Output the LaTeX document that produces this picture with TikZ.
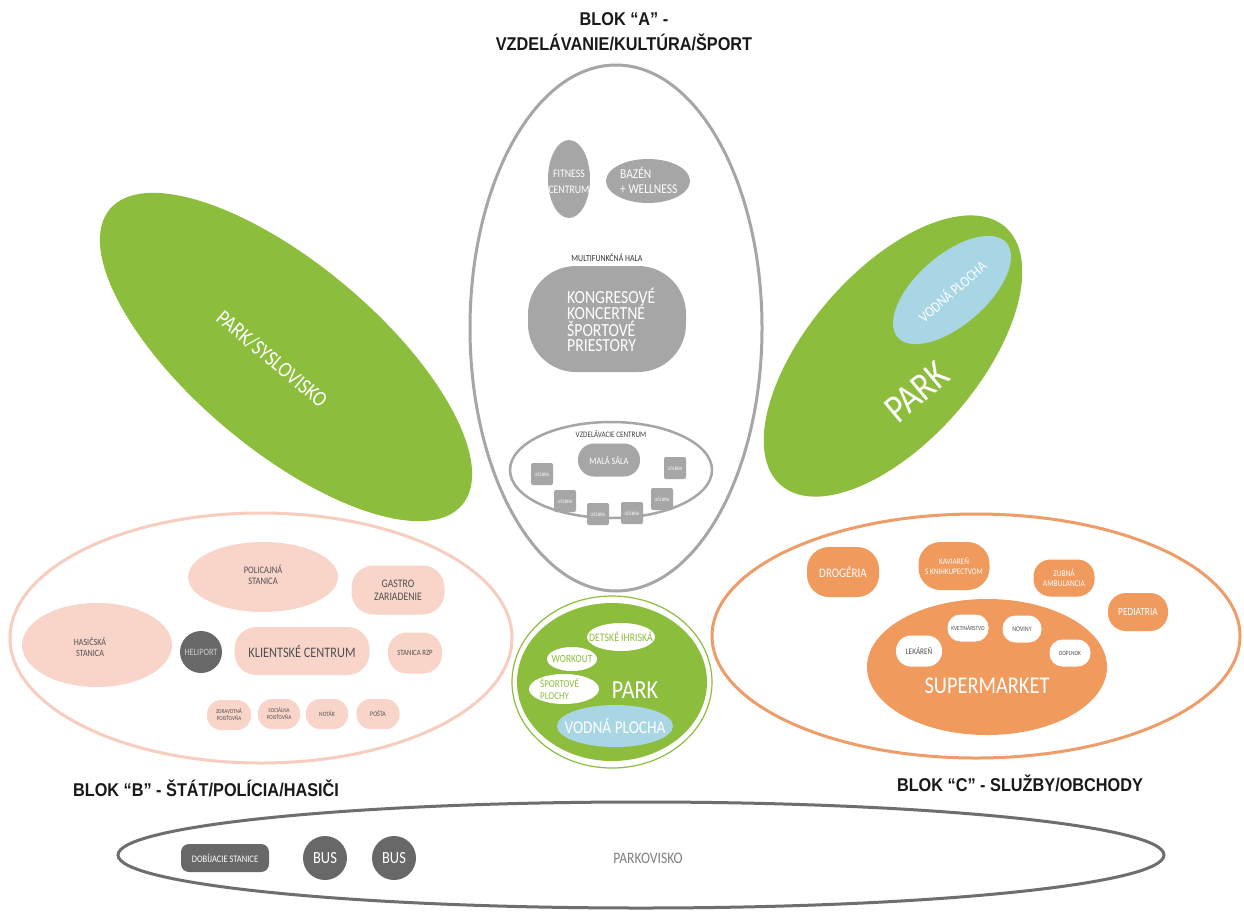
\documentclass[tikz,border=0pt]{standalone}
\usepackage{fontspec}
\setmainfont{Carlito}
\newfontfamily\lab[FakeStretch=0.85]{Carlito}
\newfontfamily\ttl[FakeStretch=0.88]{Liberation Sans}
\usetikzlibrary{shapes.geometric}
\definecolor{pgreen}{HTML}{8DBD3C}
\definecolor{wblue}{HTML}{A9D6E5}
\definecolor{agray}{HTML}{A6A6A6}
\definecolor{dgray}{HTML}{686868}
\definecolor{pgray}{HTML}{6E6E6E}
\definecolor{orng}{HTML}{F09A5E}
\definecolor{orngl}{HTML}{EE9D68}
\definecolor{pinkf}{HTML}{F9D5C9}
\definecolor{pinkl}{HTML}{F7CDBF}
\definecolor{ptext}{HTML}{505050}
\newcommand\fsz[2]{\fontsize{#1}{#2}\selectfont}
\begin{document}
\begin{tikzpicture}[x=1pt,y=-1pt,
  wh/.style 2 args={minimum width=#1pt,minimum height=#2pt},
  ell/.style={ellipse,inner sep=0pt},
  circ/.style={circle,inner sep=0pt,minimum size=#1pt},
  pill/.style={rectangle,rounded corners=#1pt,inner sep=0pt},
  tx/.style 2 args={inner sep=0pt,align=center,font=\lab\fsz{#1}{#2}},
  title/.style={inner sep=0pt,align=center,font=\ttl\bfseries\fsz{18.5}{25},text=black!90}]
\useasboundingbox (0,0) rectangle (1244,913);
\fill[white] (0,0) rectangle (1244,913);

% ---------- titles
\node[title] (tA) at (624,32) {BLOK “A” -\\VZDELÁVANIE/KULTÚRA/ŠPORT};
\node[title] (tB) at (206,788) {BLOK “B” - ŠTÁT/POLÍCIA/HASIČI};
\node[title] (tC) at (1020,783) {BLOK “C” - SLUŽBY/OBCHODY};

% ---------- left park
\node[ell,fill=pgreen,wh={460}{186},rotate=-40] (lpark) at (286,357) {};
\node[tx={22}{24},text=white,rotate=-40] (lparkT) at (272,359) {PARK/SYSLOVISKO};

% ---------- right park
\node[ell,fill=pgreen,wh={342}{170},rotate=49] (rpark) at (893,356) {};
\node[ell,fill=wblue,wh={144}{70},rotate=41] (rwater) at (952,290) {};
\node[tx={15}{18},text=white,rotate=41] (rwaterT) at (952,291) {VODNÁ PLOCHA};
\node[tx={40}{44},text=white,rotate=40] (rparkT) at (917,392) {PARK};

% ---------- block A
\node[ell,draw=agray,line width=3pt,wh={292}{526}] (blockA) at (616,328) {};
\node[ell,fill=agray,wh={42}{78}] (fit) at (569,179) {};
\node[tx={11.5}{16},text=white] (fitT) at (569,182) {FITNESS\\CENTRUM};
\node[ell,fill=agray,wh={84}{44}] (baz) at (648,181) {};
\node[tx={13.5}{15},align=left,anchor=west,text=white] (bazT) at (620,180) {BAZÉN\\+ WELLNESS};
\node[tx={9.3}{11},text=black!80] (multiT) at (607,258) {MULTIFUNKČNÁ HALA};
\node[pill=48,fill=agray,wh={158}{106}] (kong) at (607,319) {};
\node[tx={18.5}{15.5},align=left,anchor=west,text=white] (kongT) at (567,320) {KONGRESOVÉ\\KONCERTNÉ\\ŠPORTOVÉ\\PRIESTORY};
\node[ell,draw=agray,line width=2.5pt,wh={202}{96}] (edu) at (611,470) {};
\node[tx={8.4}{10},text=black!75] (eduT) at (611,434) {VZDELÁVACIE CENTRUM};
\node[pill=16,fill=agray,wh={62}{33},tx={9.8}{11},text=white] (mala) at (609,460) {MALÁ SÁLA};
\foreach \n/\px/\py in {u1/542/474,u2/565/501,u3/598/514,u4/632/513,u5/662/499,u6/675/468}
  \node[pill=2,fill=agray,wh={22}{22},tx={5}{6},text=white] (\n) at (\px,\py) {UČEBŇA};

% ---------- block B
\node[ell,draw=pinkl,line width=3pt,wh={502}{250}] (blockB) at (261,638) {};
\node[ell,fill=pinkf,wh={150}{70}] (pol) at (263,577) {};
\node[tx={10}{11.5},text=ptext] (polT) at (263,575) {POLICAJNÁ\\STANICA};
\node[pill=22,fill=pinkf,wh={93}{49},tx={11.5}{13},text=ptext] (gas) at (398,590) {GASTRO\\ZARIADENIE};
\node[ell,fill=pinkf,wh={150}{84}] (has) at (97,645) {};
\node[tx={9.5}{11},text=ptext] (hasT) at (90,647) {HASIČSKÁ\\STANICA};
\node[circ=42,fill=dgray,tx={9.7}{11},text=black!20] (heli) at (201,652) {HELIPORT};
\node[pill=22,fill=pinkf,wh={135}{48},tx={14.5}{16},text=ptext] (klient) at (302,651) {KLIENTSKÉ CENTRUM};
\node[pill=19,fill=pinkf,wh={54}{41},tx={8}{9},text=ptext] (rzp) at (415,653) {STANICA RZP};
\node[pill=14,fill=pinkf,wh={44}{30},tx={6}{7},text=ptext] (zdr) at (229,715) {ZDRAVOTNÁ\\POISŤOVŇA};
\node[pill=14,fill=pinkf,wh={42}{30},tx={6}{7},text=ptext] (soc) at (279,714) {SOCIÁLNA\\POISŤOVŇA};
\node[pill=14,fill=pinkf,wh={42}{30},tx={6.5}{7},text=ptext] (not) at (327,714) {NOTÁR};
\node[pill=14,fill=pinkf,wh={43}{30},tx={7}{8},text=ptext] (pos) at (378,714) {POŠTA};

% ---------- centre park
\node[ell,draw=pgreen,line width=1.2pt,wh={200}{172}] (cpo) at (612,682) {};
\node[ell,fill=pgreen,wh={190}{158}] (cpark) at (612,682) {};
\node[ell,fill=white,wh={68}{28}] (det) at (621,637) {};
\node[tx={11.5}{13},text=pgreen] (detT) at (621,637) {DETSKÉ IHRISKÁ};
\node[ell,fill=white,wh={50}{24}] (wrk) at (572,659) {};
\node[tx={11}{13},text=pgreen] (wrkT) at (572,659) {WORKOUT};
\node[ell,fill=white,wh={70}{30}] (spo) at (564,689) {};
\node[tx={10.5}{12},align=left,anchor=west,text=pgreen] (spoT) at (540,689) {ŠPORTOVÉ\\PLOCHY};
\node[tx={26}{28},text=white] (cparkT) at (635,690) {PARK};
\node[ell,fill=wblue,wh={116}{42}] (cwat) at (615,726) {};
\node[tx={18}{20},text=white] (cwatT) at (615,726) {VODNÁ PLOCHA};

% ---------- block C
\node[ell,draw=orngl,line width=3pt,wh={528}{244}] (blockC) at (976,636) {};
\node[pill=22,fill=orng,wh={72}{50},tx={13}{15},text=white] (dro) at (843,572) {DROGÉRIA};
\node[pill=22,fill=orng,wh={71}{48},tx={8.5}{9.5},text=white] (kav) at (954,566) {KAVIAREŇ\\S KNIHKUPECTVOM};
\node[pill=17,fill=orng,wh={61}{37},tx={8.8}{10},text=white] (zub) at (1064,578) {ZUBNÁ\\AMBULANCIA};
\node[pill=18,fill=orng,wh={60}{38},tx={11}{12},text=white] (ped) at (1138,612) {PEDIATRIA};
\node[ell,fill=orng,wh={240}{136}] (sup) at (987,667) {};
\node[tx={24}{26},text=white] (supT) at (987,686) {SUPERMARKET};
\node[pill=15,fill=white,wh={46}{31},tx={8.5}{10},text=ptext] (lek) at (919,651) {LEKÁREŇ};
\node[pill=13,fill=white,wh={41}{27},tx={6.3}{7},text=ptext] (kve) at (968,628) {KVETINÁRSTVO};
\node[pill=13,fill=white,wh={39}{27},tx={7}{8},text=ptext] (nov) at (1022,629) {NOVINY};
\node[pill=13,fill=white,wh={41}{27},tx={6.4}{7},text=ptext] (dop) at (1070,653) {DOPLNOK};

% ---------- parking
\node[ell,draw=pgray,line width=3pt,wh={1046}{106}] (parkv) at (641,855) {};
\node[pill=8,fill=dgray,wh={88}{28},tx={10}{11},text=white] (dob) at (225,858) {DOBÍJACIE STANICE};
\node[circ=44,fill=dgray,tx={17}{18},text=white] (bus1) at (325,858) {BUS};
\node[circ=44,fill=dgray,tx={17}{18},text=white] (bus2) at (394,858) {BUS};
\node[tx={16}{18},text=black!50] (parkT) at (648,858) {PARKOVISKO};
\end{tikzpicture}
\end{document}
